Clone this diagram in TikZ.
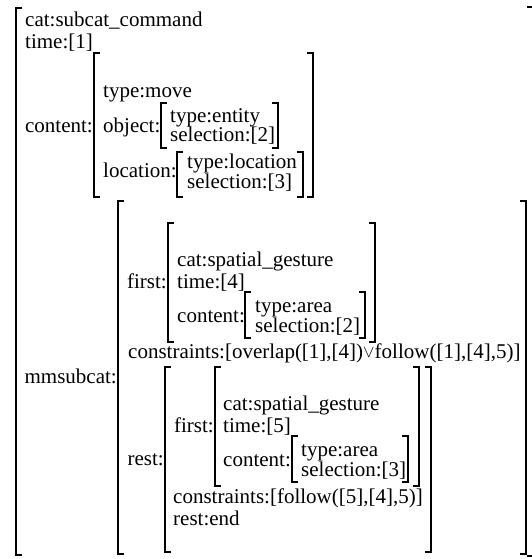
\documentclass[tikz,border=0pt]{standalone}
\usepackage{fontspec}
\setmainfont{Liberation Serif}
\newcommand\LBr[3]{\draw[brk] ({#1+6},#2) -- (#1,#2) -- (#1,#3) -- ({#1+6},#3);}
\newcommand\RBr[3]{\draw[brk] ({#1-6},#2) -- (#1,#2) -- (#1,#3) -- ({#1-6},#3);}
\begin{document}
\begin{tikzpicture}[x=1pt,y=-1pt,
  brk/.style={line width=1.4pt, line cap=butt, line join=miter},
  tx/.style={anchor=base west, inner sep=0pt, font=\fontsize{21}{22}\selectfont},
  lb/.style={anchor=base east, inner sep=0pt, font=\fontsize{21}{22}\selectfont}]
\useasboundingbox[fill=white] (0,0) rectangle (531,559);
% outer
\LBr{16}{8}{555}
\draw[brk] (527,7) -- (533,7) -- (533,556) -- (527,556);
\node[tx] (cat) at (25,27) {cat:subcat\_command};
\node[tx] (time) at (25,49) {time:[1]};
% content
\node[lb] (contentL) at (93,132) {content:};
\LBr{94}{53}{197} \RBr{313}{53}{197}
\node[tx] (type) at (103,98) {type:move};
\node[tx] (objL) at (103,132) {object:};
\LBr{161}{103}{148} \RBr{278}{103}{148}
\node[tx] (objT) at (170,122) {type:entity};
\node[tx] (objS) at (170,142) {selection:[2]};
\node[tx] (locL) at (103,177) {location:};
\LBr{177}{152}{197} \RBr{303}{152}{197}
\node[tx] (locT) at (187,168) {type:location};
\node[tx] (locS) at (187,188) {selection:[3]};
% mmsubcat
\node[lb] (mmL) at (117,383) {mmsubcat:};
\LBr{118}{201}{554} \RBr{526}{201}{554}
\node[lb] (f1L) at (167,288) {first:};
\LBr{168}{223}{342} \RBr{375}{223}{342}
\node[tx] (f1cat) at (177,266) {cat:spatial\_gesture};
\node[tx] (f1time) at (177,288) {time:[4]};
\node[tx] (f1cL) at (177,322) {content:};
\LBr{245}{292}{338} \RBr{365}{292}{338}
\node[tx] (f1cT) at (255,312) {type:area};
\node[tx] (f1cS) at (255,332) {selection:[2]};
\node[tx] (con1) at (128,358) {constraints:[overlap([1],[4])\raisebox{0.5pt}{\fontsize{17}{17}\selectfont$\vee$}follow([1],[4],5)]};
% rest
\node[lb] (restL) at (164,465) {rest:};
\LBr{165}{367}{552} \RBr{431}{367}{552}
\node[lb] (f2L) at (214,432) {first:};
\LBr{215}{367}{486} \RBr{419}{367}{486}
\node[tx] (f2cat) at (223,410) {cat:spatial\_gesture};
\node[tx] (f2time) at (223,432) {time:[5]};
\node[tx] (f2cL) at (223,466) {content:};
\LBr{292}{436}{482} \RBr{408}{436}{482}
\node[tx] (f2cT) at (301,456) {type:area};
\node[tx] (f2cS) at (301,476) {selection:[3]};
\node[tx] (con2) at (173,503) {constraints:[follow([5],[4],5)]};
\node[tx] (rend) at (173,525) {rest:end};
\end{tikzpicture}
\end{document}
